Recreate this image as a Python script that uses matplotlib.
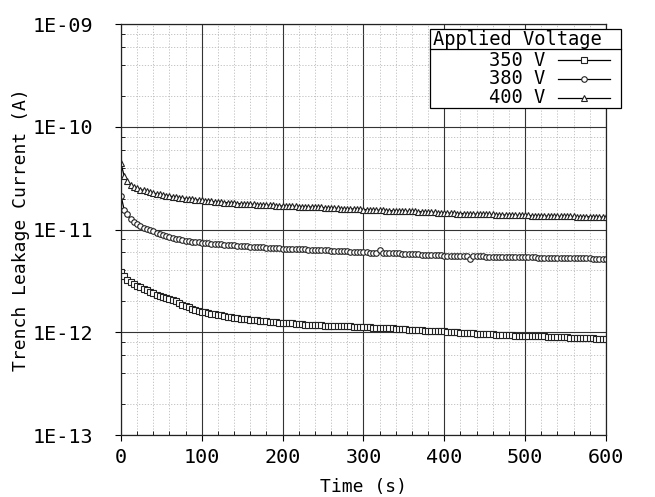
import numpy as np
import matplotlib
matplotlib.use("Agg")
import matplotlib.pyplot as plt
from matplotlib.ticker import FixedLocator, FixedFormatter, MultipleLocator
from matplotlib.lines import Line2D
from matplotlib.patches import Rectangle

# ------------------ datos (pA, cada 4 s) ------------------
t = np.arange(0, 601, 4)

i400 = [44.0, 33.0, 29.5, 27.3, 26.0, 25.2, 24.5, 24.0, 23.5, 23.0,
        22.6, 22.3, 22.0, 21.7, 21.4, 21.1, 20.9, 20.6, 20.4, 20.2,
        20.0, 19.8, 19.7, 19.5, 19.3, 19.2, 19.0, 18.9, 18.8, 18.6,
        18.5, 18.4, 18.3, 18.2, 18.1, 18.0, 17.9, 17.8, 17.8, 17.7,
        17.6, 17.6, 17.5, 17.4, 17.4, 17.3, 17.2, 17.2, 17.1, 17.0,
        16.9, 17.0, 16.9, 16.8, 16.8, 16.7, 16.7, 16.6, 16.6, 16.5,
        16.5, 16.4, 16.4, 16.3, 16.3, 16.2, 16.1, 16.1, 16.0, 16.0,
        15.9, 15.9, 15.8, 15.8, 15.7, 15.6, 15.6, 15.5, 15.5, 15.4,
        15.4, 15.4, 15.3, 15.3, 15.2, 15.2, 15.1, 15.1, 15.1, 15.0,
        15.0, 15.0, 14.9, 14.9, 14.8, 14.8, 14.7, 14.7, 14.6, 14.6,
        14.5, 14.5, 14.4, 14.4, 14.3, 14.3, 14.3, 14.2, 14.2, 14.2,
        14.1, 14.1, 14.1, 14.0, 14.0, 14.0, 13.9, 13.9, 13.9, 13.8,
        13.8, 13.8, 13.8, 13.7, 13.7, 13.7, 13.7, 13.6, 13.6, 13.6,
        13.6, 13.5, 13.5, 13.5, 13.5, 13.5, 13.4, 13.4, 13.4, 13.4,
        13.4, 13.3, 13.3, 13.3, 13.3, 13.3, 13.2, 13.2, 13.2, 13.2,
        13.2]

i380 = [21.4, 15.5, 14.0, 12.6, 11.8, 11.2, 10.8, 10.4, 10.1, 9.9,
        9.6, 9.3, 9.0, 8.8, 8.6, 8.4, 8.3, 8.1, 8.0, 7.9,
        7.8, 7.7, 7.6, 7.55, 7.5, 7.45, 7.4, 7.35, 7.3, 7.25,
        7.2, 7.15, 7.1, 7.05, 7.0, 7.0, 6.95, 6.9, 6.9, 6.85,
        6.8, 6.8, 6.75, 6.7, 6.7, 6.65, 6.6, 6.6, 6.55, 6.55,
        6.5, 6.5, 6.48, 6.45, 6.45, 6.42, 6.4, 6.4, 6.38, 6.35,
        6.33, 6.3, 6.3, 6.28, 6.25, 6.23, 6.2, 6.2, 6.18, 6.15,
        6.13, 6.1, 6.08, 6.05, 6.03, 6.0, 5.98, 5.97, 5.95, 5.95,
        6.3, 5.93, 5.92, 5.9, 5.88, 5.86, 5.85, 5.83, 5.8, 5.78,
        5.75, 5.73, 5.72, 5.7, 5.68, 5.66, 5.65, 5.62, 5.6, 5.6,
        5.58, 5.57, 5.56, 5.55, 5.54, 5.53, 5.52, 5.51, 5.2, 5.5,
        5.49, 5.48, 5.47, 5.46, 5.45, 5.45, 5.44, 5.43, 5.42, 5.41,
        5.4, 5.39, 5.38, 5.38, 5.37, 5.37, 5.36, 5.35, 5.35, 5.34,
        5.33, 5.33, 5.32, 5.31, 5.3, 5.3, 5.29, 5.28, 5.28, 5.27,
        5.26, 5.26, 5.25, 5.24, 5.24, 5.23, 5.22, 5.22, 5.21, 5.2,
        5.2]

i350 = [3.85, 3.5, 3.25, 3.1, 2.95, 2.85, 2.75, 2.65, 2.55, 2.47,
        2.4, 2.32, 2.25, 2.2, 2.15, 2.1, 2.05, 2.0, 1.93, 1.86,
        1.8, 1.75, 1.7, 1.66, 1.62, 1.58, 1.56, 1.54, 1.52, 1.5,
        1.48, 1.46, 1.44, 1.42, 1.4, 1.39, 1.37, 1.36, 1.35, 1.34,
        1.33, 1.32, 1.31, 1.3, 1.29, 1.28, 1.27, 1.26, 1.25, 1.24,
        1.23, 1.23, 1.22, 1.22, 1.21, 1.2, 1.2, 1.19, 1.19, 1.18,
        1.18, 1.17, 1.17, 1.16, 1.16, 1.16, 1.15, 1.15, 1.15, 1.14,
        1.14, 1.14, 1.13, 1.13, 1.13, 1.13, 1.12, 1.12, 1.11, 1.11,
        1.1, 1.1, 1.1, 1.09, 1.09, 1.08, 1.08, 1.07, 1.07, 1.06,
        1.06, 1.05, 1.05, 1.05, 1.04, 1.04, 1.03, 1.03, 1.03, 1.02,
        1.02, 1.01, 1.01, 1.0, 1.0, 0.99, 0.99, 0.99, 0.98, 0.98,
        0.97, 0.97, 0.97, 0.96, 0.96, 0.96, 0.95, 0.95, 0.95, 0.94,
        0.94, 0.94, 0.93, 0.93, 0.93, 0.93, 0.92, 0.92, 0.92, 0.91,
        0.91, 0.91, 0.9, 0.9, 0.9, 0.9, 0.89, 0.89, 0.89, 0.88,
        0.88, 0.88, 0.88, 0.87, 0.87, 0.87, 0.87, 0.86, 0.86, 0.86,
        0.86]

labels = ["350 V", "380 V", "400 V"]
markers = ["s", "o", "^"]
ytick_vals = [1e-13, 1e-12, 1e-11, 1e-10, 1e-9]
ytick_txt = ["1E-13", "1E-12", "1E-11", "1E-10", "1E-09"]

# ------------------ figura ------------------
plt.rcParams["font.family"] = "DejaVu Sans Mono"
plt.rcParams["font.size"] = 13

fig = plt.figure(figsize=(6.55, 4.97), dpi=100)
ax = fig.add_axes([0.1847, 0.1247, 0.7403, 0.827])

mk_style = dict(color="black", lw=0.9, ms=4, mfc="white", mec="#222222", mew=0.8)
for serie, lab, mk in zip([i350, i380, i400], labels, markers):
    y = np.array(serie) * 1e-12
    ax.plot(t, y, marker=mk, label=lab, **mk_style)

ax.set_yscale("log")
ax.set_xlim(0, 600)
ax.set_ylim(1e-13, 1e-9)

ax.xaxis.set_major_locator(MultipleLocator(100))
ax.xaxis.set_minor_locator(MultipleLocator(20))
ax.yaxis.set_major_locator(FixedLocator(ytick_vals))
ax.yaxis.set_major_formatter(FixedFormatter(ytick_txt))
minors = [m * 10.0 ** e for e in range(-13, -9) for m in (2, 4, 6, 8)]
ax.yaxis.set_minor_locator(FixedLocator(minors))
ax.yaxis.set_minor_formatter(FixedFormatter([""] * len(minors)))

ax.grid(True, which="major", color="#333333", lw=0.8, ls="-")
ax.grid(True, which="minor", color="#bbbbbb", lw=0.6, ls=(0, (1.5, 2)))
ax.set_axisbelow(True)
ax.tick_params(which="major", direction="out", length=4, labelsize=14.5)
ax.tick_params(axis="x", which="major", pad=5)
ax.tick_params(axis="y", which="major", pad=16)
ax.tick_params(which="minor", direction="in", length=3)
for s in ax.spines.values():
    s.set_linewidth(0.9)
    s.set_color("#222222")

ax.set_xlabel("Time (s)", labelpad=8)
ax.set_ylabel("Trench Leakage Current (A)", labelpad=2)

# ------------------ leyenda estilo gnuplot (a mano) ------------------
tr = ax.transAxes
box = Rectangle((0.637, 0.796), 1.031 - 0.637, 0.988 - 0.796, transform=tr,
                facecolor="white", edgecolor="black", lw=0.9,
                clip_on=False, zorder=5)
ax.add_patch(box)
ax.add_line(Line2D([0.637, 1.031], [0.939, 0.939], transform=tr,
                   color="black", lw=0.9, clip_on=False, zorder=6))
ax.text(0.818, 0.963, "Applied Voltage", transform=tr, ha="center",
        va="center", fontsize=13.5, zorder=6)
filas = [0.912, 0.867, 0.821]
for lab, mk, yf in zip(labels, markers, filas):
    ax.text(0.874, yf, lab, transform=tr, ha="right", va="center",
            fontsize=13.5, zorder=6)
    ax.add_line(Line2D([0.901, 0.955, 1.008], [yf, yf, yf], transform=tr,
                       marker=mk, markevery=[1], clip_on=False, zorder=6,
                       **mk_style))

fig.savefig("out.png", dpi=100)
